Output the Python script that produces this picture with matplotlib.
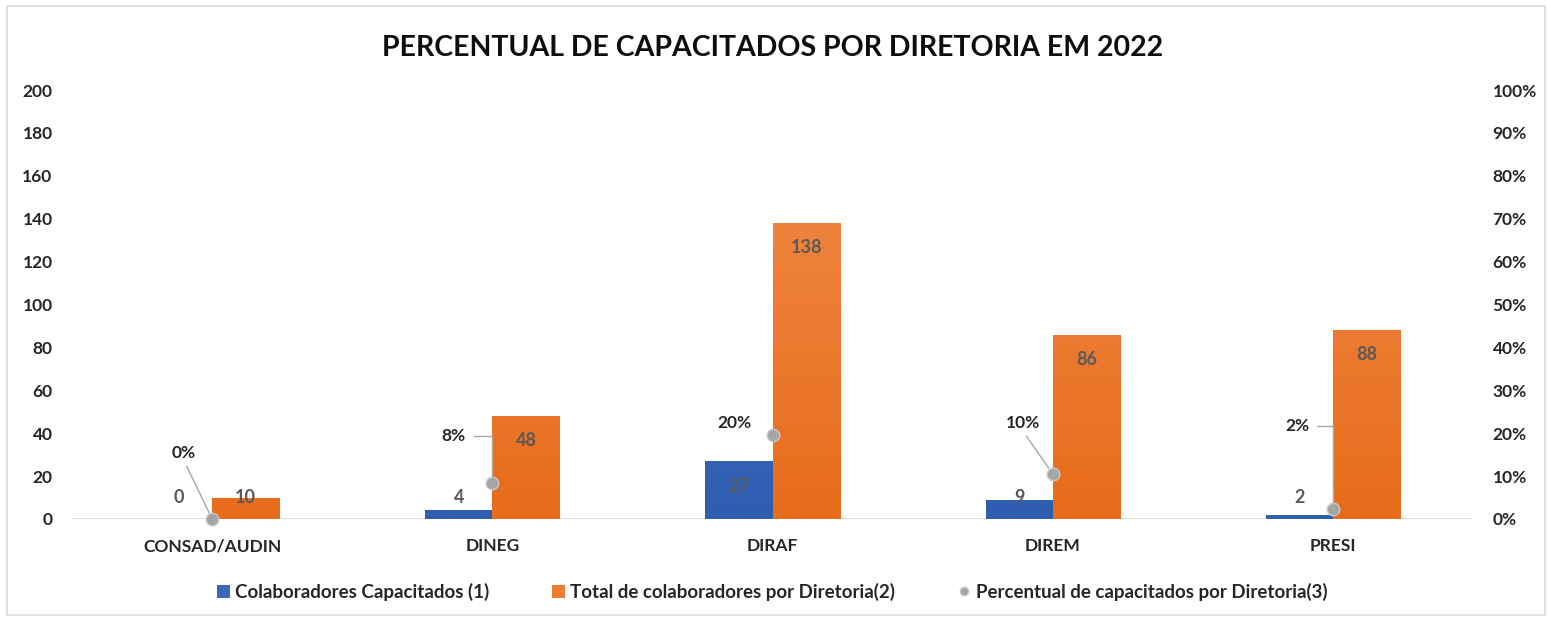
import numpy as np
import matplotlib
matplotlib.use("Agg")
import matplotlib.pyplot as plt
from matplotlib.colors import LinearSegmentedColormap
from matplotlib.patches import Rectangle
from matplotlib.lines import Line2D

plt.rcParams['font.family'] = ['Lato', 'DejaVu Sans']

diretorias = ["CONSAD/AUDIN", "DINEG", "DIRAF", "DIREM", "PRESI"]
capacitados = [0, 4, 27, 9, 2]
total = [10, 48, 138, 86, 88]
percentual = [0.0, 0.083, 0.196, 0.105, 0.023]

left_ticks = [0, 20, 40, 60, 80, 100, 120, 140, 160, 180, 200]
right_ticks = [0, .1, .2, .3, .4, .5, .6, .7, .8, .9, 1.0]

# label offsets for the percent labels, in pixels from the marker
pct_offsets = [(-28, 66), (-39, 47), (-38, 12), (-30, 51), (-36, 83)]
pct_leader = ["diag", "elbow", None, "diag", "elbow"]

fig = plt.figure(figsize=(15.49, 6.21), dpi=100)
ax = fig.add_axes([0.0465, 0.1643, 0.9045, 0.6907])
ax2 = ax.twinx()

x = np.arange(len(diretorias))
w = 0.24

blue_cmap = LinearSegmentedColormap.from_list("b", ["#2f5eb0", "#4d7bcb"])
orange_cmap = LinearSegmentedColormap.from_list("o", ["#e76c1b", "#f28d4c"])


def gradient_bars(bars, cmap):
    grad = np.linspace(0, 1, 256).reshape(-1, 1)
    for b in bars:
        h = b.get_height()
        if h <= 0:
            continue
        b.set_facecolor("none")
        b.set_edgecolor("none")
        x0 = b.get_x()
        im = ax.imshow(grad, cmap=cmap, origin="lower", aspect="auto",
                       extent=(x0, x0 + b.get_width(), 0, 200),
                       vmin=0, vmax=1, zorder=2)
        im.set_clip_path(b)


b1 = ax.bar(x - w / 2, capacitados, w, color="#3a68bd", zorder=2)
b2 = ax.bar(x + w / 2, total, w, color="#ed7d31", zorder=2)
gradient_bars(b1, blue_cmap)
gradient_bars(b2, orange_cmap)

ax.set_xlim(-0.5, len(diretorias) - 0.5)
ax.set_ylim(0, 200)
ax2.set_ylim(0, 1)

# value labels on the bars
for xi, v in zip(x, capacitados):
    y = v - 12 if v > 20 else 10
    ax.text(xi - w / 2, y, f"{v}", ha="center", va="center", fontsize=13,
            color="#595959", fontweight="bold", zorder=5)
for xi, v in zip(x, total):
    y = v - 11.5 if v > 20 else v
    ax.text(xi + w / 2, y, f"{v}", ha="center", va="center", fontsize=13,
            color="#595959", fontweight="bold", zorder=5)

# percent markers (no connecting line)
ax2.plot(x, percentual, linestyle="none", marker="o", markersize=9,
         markerfacecolor="#a5a5a5", markeredgecolor="#c8c8c8",
         markeredgewidth=1, zorder=6, clip_on=False)

for xi, p, off, kind in zip(x, percentual, pct_offsets, pct_leader):
    arrow = None
    if kind == "diag":
        arrow = dict(arrowstyle="-", color="#a6a6a6", lw=1,
                     relpos=(0.5, 0), shrinkA=2, shrinkB=5)
    elif kind == "elbow":
        arrow = dict(arrowstyle="-", color="#a6a6a6", lw=1,
                     relpos=(1, 0.5), shrinkA=4, shrinkB=5,
                     connectionstyle="angle,angleA=0,angleB=90,rad=0")
    ax2.annotate(f"{p * 100:.0f}%", xy=(xi, p), xytext=off,
                 textcoords="offset pixels", ha="center", va="center",
                 fontsize=12.5, fontweight="bold", color="#262626",
                 arrowprops=arrow, zorder=7)

for a in (ax, ax2):
    for s in a.spines.values():
        s.set_visible(False)
ax.axhline(0, color="#d9d9d9", lw=1.2, zorder=1)

ax.set_yticks(left_ticks)
ax.set_yticklabels([str(t) for t in left_ticks])
ax2.set_yticks(right_ticks)
ax2.set_yticklabels([f"{t * 100:.0f}%" for t in right_ticks])
ax.set_xticks(x)
ax.set_xticklabels(diretorias)
ax.tick_params(axis="y", length=0, pad=14, labelsize=12.5, labelcolor="#262626")
ax2.tick_params(axis="y", length=0, pad=14, labelsize=12.5, labelcolor="#262626")
ax.tick_params(axis="x", length=0, pad=14, labelsize=12.5, labelcolor="#262626")
for lbl in ax.get_yticklabels() + ax2.get_yticklabels() + ax.get_xticklabels():
    lbl.set_fontweight("bold")

fig.text(0.4985, 0.922, "PERCENTUAL DE CAPACITADOS POR DIRETORIA EM 2022",
         ha="center", va="center", fontsize=20.5, fontweight="bold", color="#0d0d0d")

handles = [
    Rectangle((0, 0), 1, 1, facecolor="#3a68bd"),
    Rectangle((0, 0), 1, 1, facecolor="#ed7d31"),
    Line2D([], [], linestyle="none", marker="o", markersize=6,
           markerfacecolor="#a5a5a5", markeredgecolor="#c8c8c8"),
]
labels = ["Colaboradores Capacitados (1)", "Total de colaboradores por Diretoria(2)",
          "Percentual de capacitados por Diretoria(3)"]
fig.legend(handles, labels, loc="center", bbox_to_anchor=(0.4985, 0.047), ncol=3,
           frameon=False, handlelength=0.7, handleheight=0.7,
           handletextpad=0.3, columnspacing=3.3,
           prop={"size": 13.5, "weight": "bold"}, labelcolor="#262626")

# chart frame
fig.add_artist(Rectangle((0.0045, 0.01), 0.993, 0.98, transform=fig.transFigure,
                         fill=False, edgecolor="#d9d9d9", lw=1.2))

fig.savefig("out.png", dpi=100, facecolor="white")
